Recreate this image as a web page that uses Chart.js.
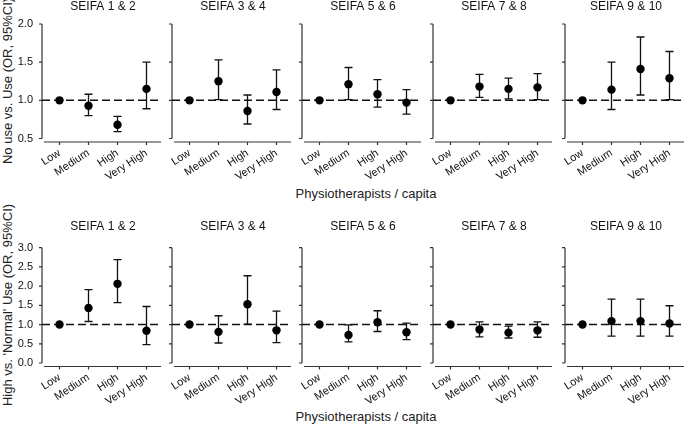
<!DOCTYPE html>
<html>
<head>
<meta charset="utf-8">
<script src="https://cdn.jsdelivr.net/npm/chart.js@4.4.1/dist/chart.umd.min.js"></script>
<style>
  body { margin: 0; background: #fff; }
  #wrap { position: relative; width: 685px; height: 425px; overflow: hidden; font-family: "Liberation Sans", Arial, sans-serif; color: #222; }
  #wrap canvas { position: absolute; }
  .ytitle { position: absolute; font-size: 13px; white-space: nowrap; transform: translate(-50%, -50%) rotate(-90deg); }
  .xtitle { position: absolute; font-size: 13px; white-space: nowrap; transform: translate(-50%, -50%); }
</style>
</head>
<body>
<div id="wrap">
  <div class="ytitle" style="left:7px; top:81px;">No use vs. Use (OR, 95%CI)</div>
  <div class="ytitle" style="left:7px; top:305px;">High vs. 'Normal' Use (OR, 95%CI)</div>
  <div class="xtitle" style="left:366px; top:193px;">Physiotherapists / capita</div>
  <div class="xtitle" style="left:366px; top:416px;">Physiotherapists / capita</div>
</div>
<script>
const categories = ['Low', 'Medium', 'High', 'Very High'];
const groups = ['SEIFA 1 & 2', 'SEIFA 3 & 4', 'SEIFA 5 & 6', 'SEIFA 7 & 8', 'SEIFA 9 & 10'];

// No use vs. Use
const topOR    = [[1.00, 0.93, 0.68, 1.15], [1.00, 1.25, 0.86, 1.11], [1.00, 1.21, 1.08, 0.97], [1.00, 1.18, 1.15, 1.17], [1.00, 1.14, 1.41, 1.29]];
const topLower = [[null, 0.80, 0.59, 0.89], [null, 1.01, 0.69, 0.88], [null, 1.01, 0.91, 0.82], [null, 1.04, 1.02, 1.01], [null, 0.88, 1.07, 1.01]];
const topUpper = [[null, 1.08, 0.79, 1.50], [null, 1.53, 1.07, 1.40], [null, 1.43, 1.27, 1.14], [null, 1.34, 1.29, 1.35], [null, 1.50, 1.83, 1.64]];
const topTicks = [0.5, 1.0, 1.5, 2.0];

// High vs. 'Normal' use
const botOR    = [[1.00, 1.43, 2.06, 0.84], [1.00, 0.81, 1.53, 0.85], [1.00, 0.73, 1.06, 0.80], [1.00, 0.87, 0.79, 0.85], [1.00, 1.09, 1.09, 1.03]];
const botLower = [[null, 1.08, 1.57, 0.48], [null, 0.52, 1.01, 0.53], [null, 0.55, 0.82, 0.61], [null, 0.68, 0.65, 0.67], [null, 0.70, 0.70, 0.70]];
const botUpper = [[null, 1.91, 2.69, 1.47], [null, 1.23, 2.27, 1.35], [null, 0.99, 1.36, 1.04], [null, 1.07, 0.96, 1.07], [null, 1.66, 1.66, 1.49]];
const botTicks = [0.0, 0.5, 1.0, 1.5, 2.0, 2.5, 3.0];

const refLine = 1.0;

// layout
const areaLefts = [45, 175, 305, 436, 568];
const areaWidth = 116;
const yAxisW = 46;
const font = '"Liberation Sans", Arial, sans-serif';
const ink = '#111';

// panel title, dashed reference line, whiskers and detached axes
const ciPlugin = {
  id: 'ciBars',
  beforeDatasetsDraw(chart, args, opts) {
    const { ctx, chartArea: a, scales: { x, y } } = chart;
    ctx.save();
    // title, centred over the plot area
    ctx.fillStyle = ink;
    ctx.font = '12px ' + font;
    ctx.textAlign = 'center';
    ctx.textBaseline = 'middle';
    ctx.fillText(opts.title, (a.left + a.right) / 2, 7);
    // axes
    ctx.strokeStyle = '#333';
    ctx.lineWidth = 1.2;
    ctx.beginPath();
    ctx.moveTo(a.left - 3, a.top);
    ctx.lineTo(a.left - 3, a.bottom);
    opts.ticks.forEach(t => {
      const py = y.getPixelForValue(t);
      ctx.moveTo(a.left - 6, py);
      ctx.lineTo(a.left - 3, py);
    });
    const ax = a.bottom + 3.5;
    ctx.moveTo(a.left - 1, ax);
    ctx.lineTo(a.right, ax);
    categories.forEach((c, i) => {
      const px = x.getPixelForValue(i);
      ctx.moveTo(px, ax);
      ctx.lineTo(px, ax + 3);
    });
    ctx.stroke();
    // reference line
    const ry = y.getPixelForValue(refLine);
    ctx.strokeStyle = ink;
    ctx.lineWidth = 1.5;
    ctx.setLineDash([8, 4]);
    ctx.beginPath();
    ctx.moveTo(a.left - 3, ry);
    ctx.lineTo(a.right, ry);
    ctx.stroke();
    ctx.setLineDash([]);
    // whiskers
    ctx.lineWidth = 1.3;
    ctx.beginPath();
    opts.lower.forEach((lo, i) => {
      const hi = opts.upper[i];
      if (lo == null || hi == null) return;
      const px = x.getPixelForValue(i);
      const p1 = y.getPixelForValue(lo);
      const p2 = y.getPixelForValue(hi);
      ctx.moveTo(px, p1); ctx.lineTo(px, p2);
      ctx.moveTo(px - 4, p1); ctx.lineTo(px + 4, p1);
      ctx.moveTo(px - 4, p2); ctx.lineTo(px + 4, p2);
    });
    ctx.stroke();
    ctx.restore();
  }
};

function makePanel(row, i) {
  const isTop = row === 0;
  const or = isTop ? topOR[i] : botOR[i];
  const lower = isTop ? topLower[i] : botLower[i];
  const upper = isTop ? topUpper[i] : botUpper[i];
  const ticks = isTop ? topTicks : botTicks;
  const canvasTop = isTop ? 0 : 220;
  const canvasH = isTop ? 185 : 190;
  const areaTop = isTop ? 24 : 27.7;      // relative to canvas top
  const areaBottom = isTop ? 138.5 : 143;

  const cv = document.createElement('canvas');
  cv.width = yAxisW + areaWidth + yAxisW;
  cv.height = canvasH;
  cv.style.left = (areaLefts[i] - yAxisW) + 'px';
  cv.style.top = canvasTop + 'px';
  document.getElementById('wrap').appendChild(cv);

  new Chart(cv.getContext('2d'), {
    type: 'line',
    data: {
      labels: categories,
      datasets: [{
        data: or,
        showLine: false,
        pointRadius: 4.2,
        pointHoverRadius: 4.2,
        pointBackgroundColor: '#000',
        pointBorderColor: '#000',
        pointBorderWidth: 0
      }]
    },
    options: {
      responsive: false,
      animation: false,
      events: [],
      layout: { padding: { left: 0, right: yAxisW, top: areaTop, bottom: 0 } },
      plugins: {
        legend: { display: false },
        tooltip: { enabled: false },
        title: { display: false },
        ciBars: { lower, upper, ticks, title: groups[i] }
      },
      scales: {
        x: {
          type: 'category',
          offset: true,
          grid: { display: false, drawTicks: false },
          border: { display: false },
          ticks: {
            autoSkip: false,
            minRotation: 33,
            maxRotation: 33,
            padding: 8,
            color: ink,
            font: { family: font, size: 11 }
          },
          afterFit(s) { s.height = canvasH - areaBottom; }
        },
        y: {
          min: ticks[0],
          max: ticks[ticks.length - 1],
          grid: { display: false, drawTicks: false },
          border: { display: false },
          ticks: {
            display: i === 0,
            stepSize: 0.5,
            padding: 12,
            color: ink,
            font: { family: font, size: 11 },
            callback: v => Number(v).toFixed(1)
          },
          afterFit(s) { s.width = yAxisW; }
        }
      }
    },
    plugins: [ciPlugin]
  });
}

for (let r = 0; r < 2; r++) {
  for (let i = 0; i < groups.length; i++) makePanel(r, i);
}
</script>
</body>
</html>
